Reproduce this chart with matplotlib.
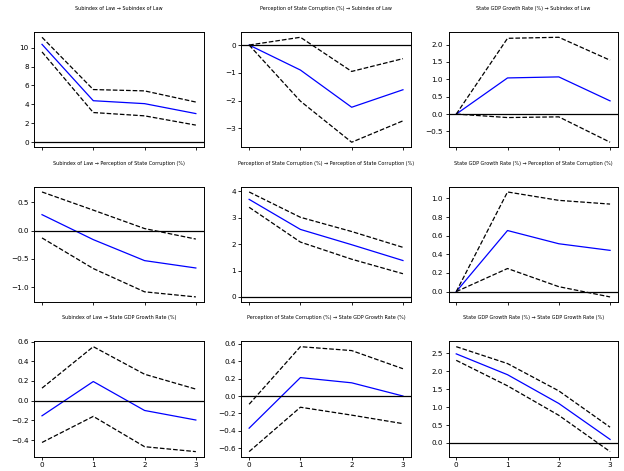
import matplotlib
matplotlib.use("Agg")
import matplotlib.pyplot as plt
import numpy as np

names = ["Subindex of Law", "Perception of State Corruption (%)", "State GDP Growth Rate (%)"]
periods = [0, 1, 2, 3]

# irf[response][impulse] -> point estimate, upper band, lower band
irf = [
    [
        ([10.35, 4.39, 4.08, 3.03], [11.1, 5.57, 5.43, 4.25], [9.55, 3.14, 2.79, 1.81]),
        ([0.0, -0.90, -2.24, -1.61], [0.0, 0.28, -0.95, -0.49], [0.0, -2.02, -3.50, -2.73]),
        ([0.0, 1.04, 1.07, 0.38], [0.0, 2.18, 2.21, 1.55], [0.0, -0.10, -0.08, -0.81]),
    ],
    [
        ([0.28, -0.16, -0.53, -0.66], [0.68, 0.36, 0.035, -0.15], [-0.13, -0.67, -1.08, -1.17]),
        ([3.70, 2.56, 1.98, 1.38], [3.98, 3.02, 2.48, 1.88], [3.40, 2.08, 1.43, 0.88]),
        ([0.0, 0.656, 0.514, 0.443], [0.0, 1.07, 0.98, 0.94], [0.0, 0.248, 0.053, -0.057]),
    ],
    [
        ([-0.154, 0.194, -0.10, -0.197], [0.127, 0.548, 0.268, 0.117], [-0.425, -0.16, -0.468, -0.518]),
        ([-0.37, 0.212, 0.152, 0.0], [-0.095, 0.568, 0.523, 0.314], [-0.64, -0.129, -0.22, -0.318]),
        ([2.48, 1.90, 1.10, 0.10], [2.68, 2.21, 1.45, 0.44], [2.30, 1.59, 0.77, -0.24]),
    ],
]

fig, axes = plt.subplots(3, 3, figsize=(6.24, 4.71), dpi=100, sharex=True)
fig.subplots_adjust(left=0.055, right=0.99, bottom=0.03, top=0.932, wspace=0.224, hspace=0.34)

for i in range(3):
    for j in range(3):
        ax = axes[i][j]
        est, upper, lower = irf[i][j]
        ax.plot(periods, est, color="b", lw=0.9)
        ax.plot(periods, upper, "k--", lw=0.9)
        ax.plot(periods, lower, "k--", lw=0.9)
        ax.axhline(0, color="k", lw=0.9)
        ax.set_title(names[j] + " \u2192 " + names[i], fontsize=3.5, pad=16)
        ax.set_xticks(periods)
        ax.tick_params(labelsize=5.2, length=2.5, width=0.6, pad=1.5)
        for s in ax.spines.values():
            s.set_linewidth(0.7)

fig.savefig("out.png", dpi=100)
